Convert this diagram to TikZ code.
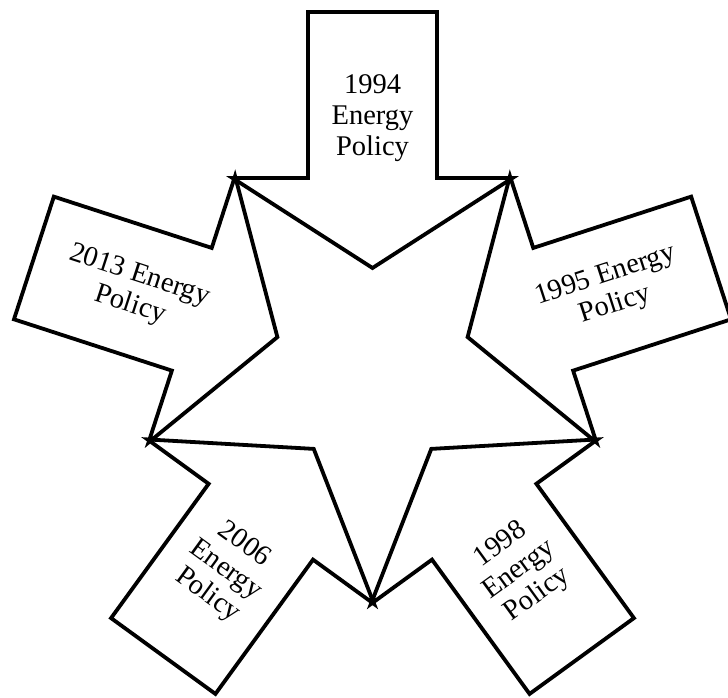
\documentclass[tikz,border=0pt]{standalone}
\usepackage{fontspec}
\setmainfont{Liberation Serif}
\usetikzlibrary{calc}
\begin{document}
\begin{tikzpicture}[x=1pt,y=1pt,
  arrowshape/.style={draw=black, fill=white, line width=3.8pt, line join=miter},
  ptext/.style={align=center, font=\fontsize{28.5}{31}\selectfont, inner sep=0pt}]
\useasboundingbox (0,0) rectangle (728,698);
\coordinate (C) at (372.5,330);
\foreach \k in {0,...,4} {
  \begin{scope}[shift={(C)}, rotate=72*\k]
    \draw[arrowshape] (0,100) -- (140,190) -- (64.5,190) -- (64.5,356) -- (-64.5,356) -- (-64.5,190) -- (-140,190) -- cycle;
  \end{scope}
}
\node[ptext, rotate=0]   (p1994) at ($(C)+(90:250)$)  {1994\\Energy\\Policy};
\node[ptext, rotate=-18] (p2013) at ($(C)+(162:250)$) {2013 Energy\\Policy};
\node[ptext, rotate=-36] (p2006) at ($(C)+(234:250)$) {2006\\Energy\\Policy};
\node[ptext, rotate=36]  (p1998) at ($(C)+(306:250)$) {1998\\Energy\\Policy};
\node[ptext, rotate=18]  (p1995) at ($(C)+(18:250)$)  {1995 Energy\\Policy};
\end{tikzpicture}
\end{document}
